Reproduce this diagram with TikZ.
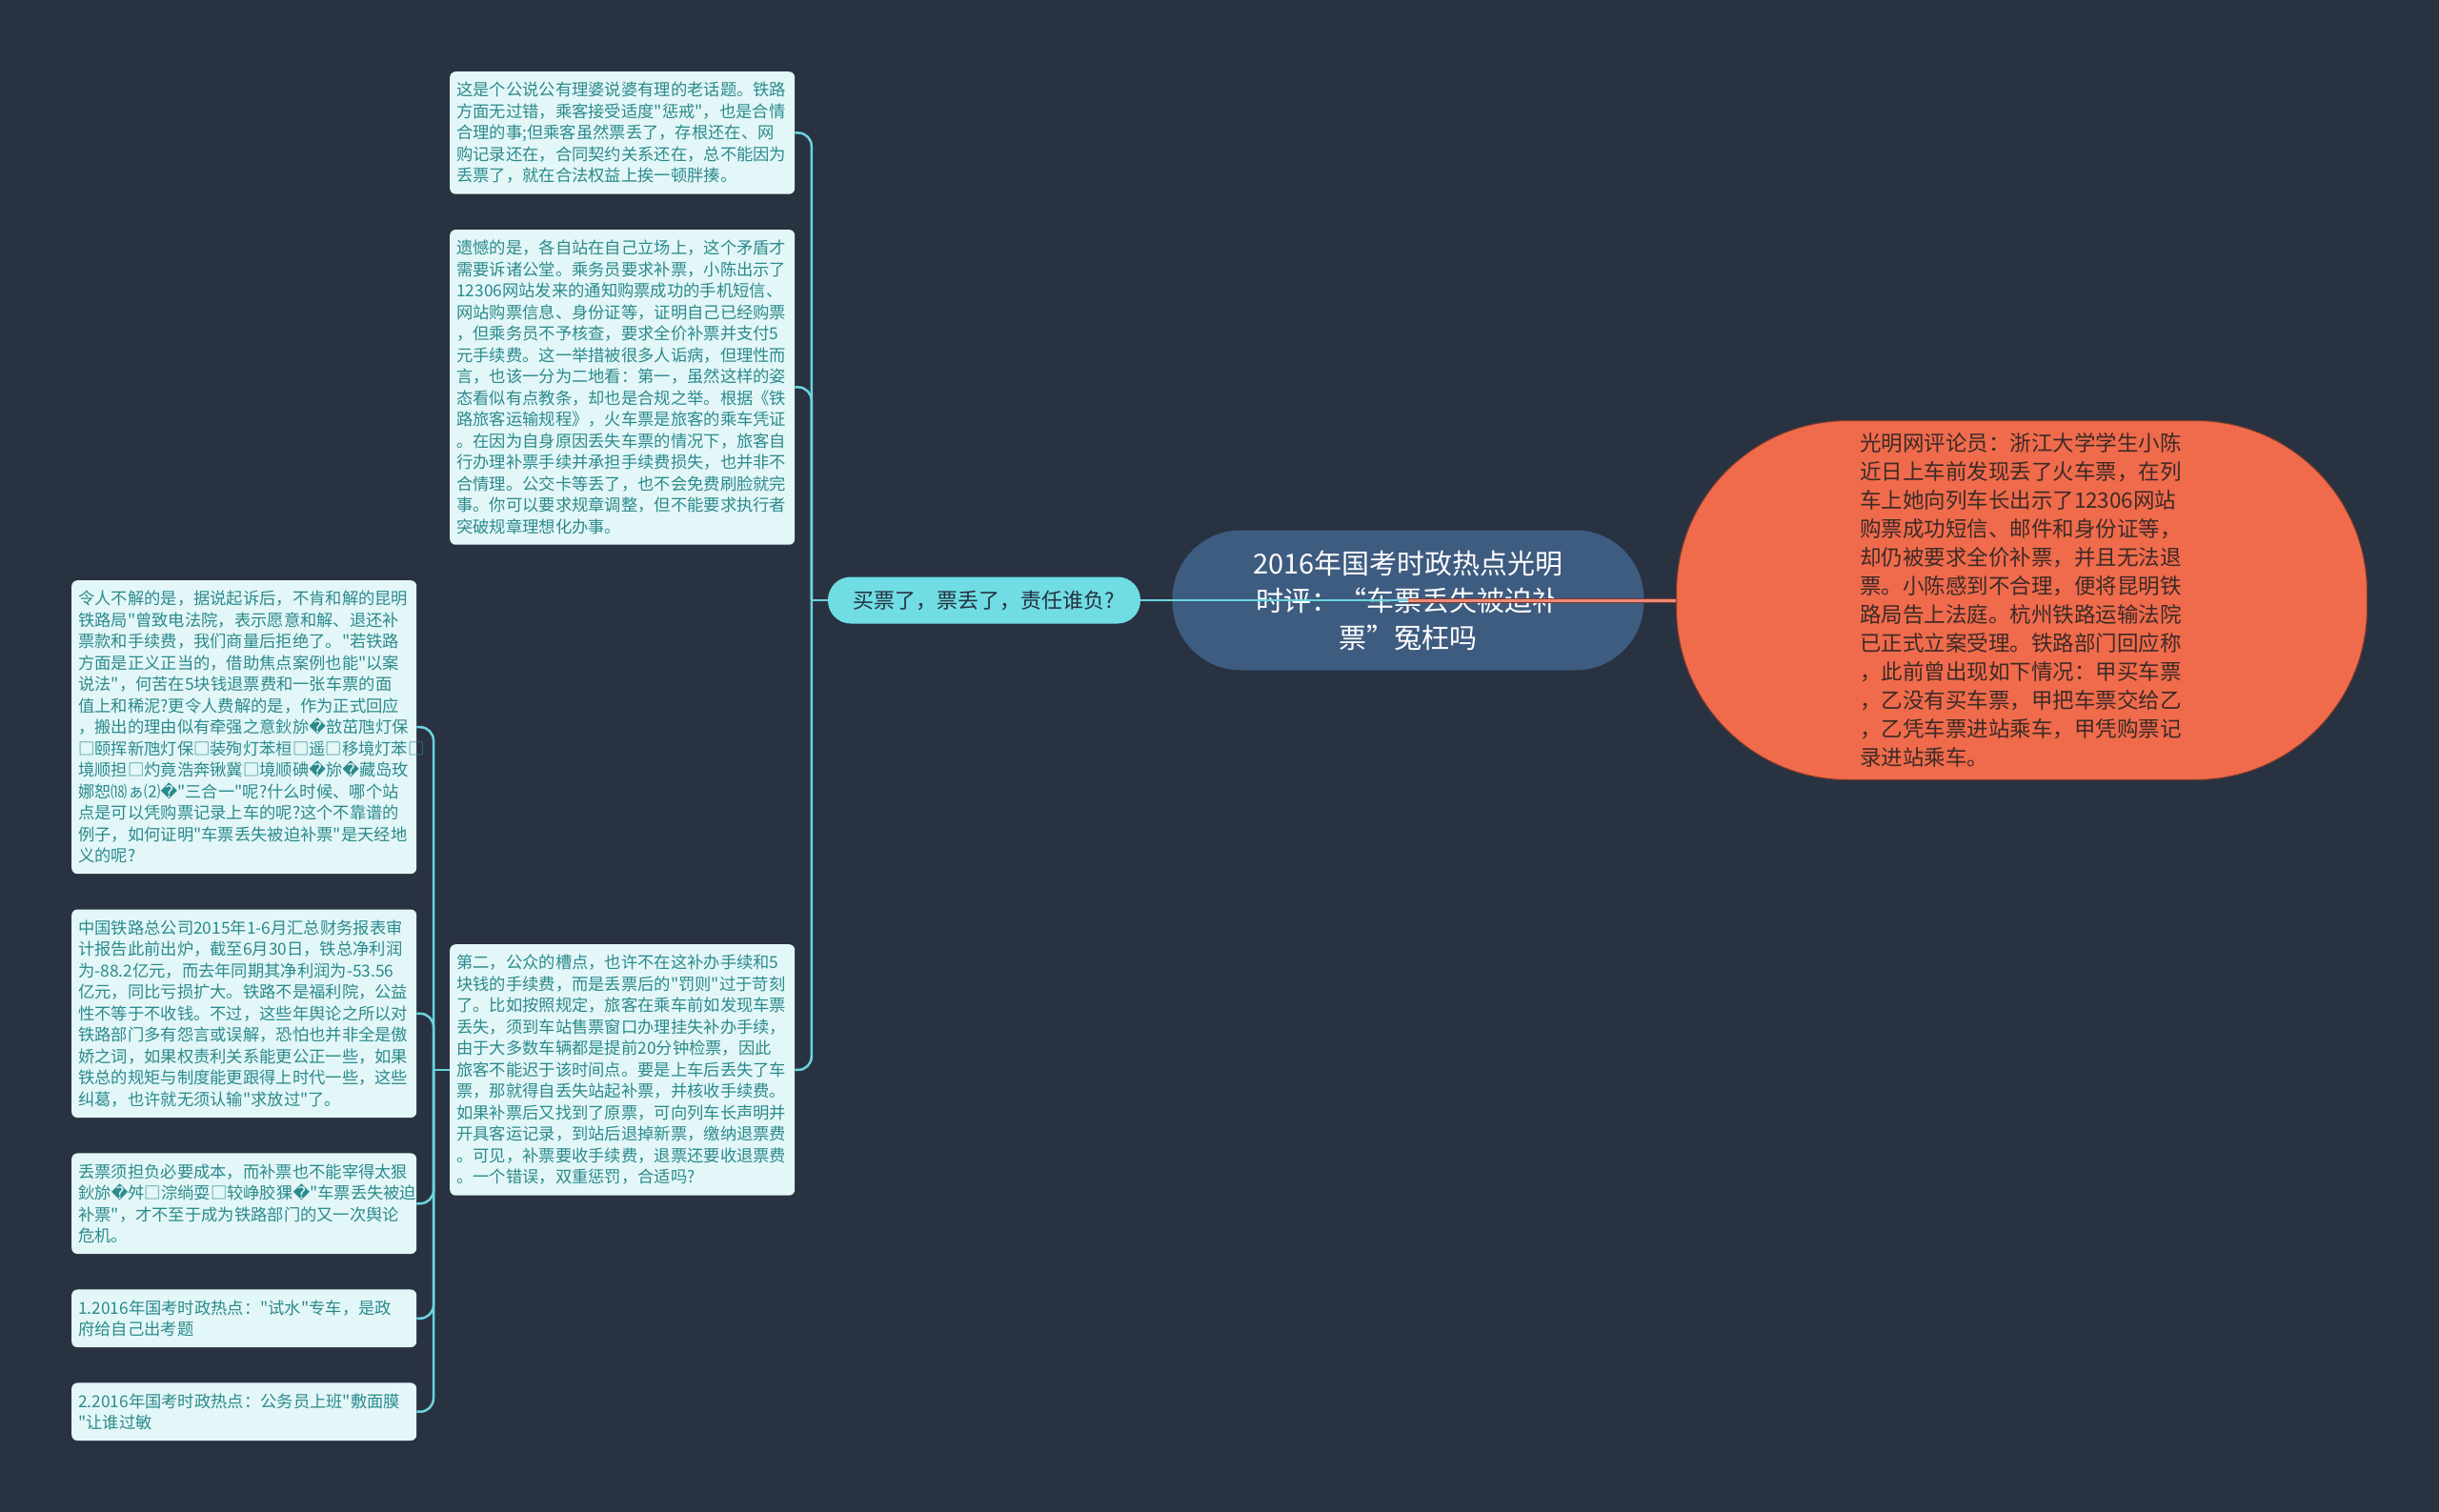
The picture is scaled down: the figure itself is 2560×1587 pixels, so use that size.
\documentclass[tikz,border=0pt]{standalone}
\usepackage{fontspec}
\setmainfont{Noto Sans CJK SC}[Ligatures=TeXOff]
\newfontfamily\symfont{DejaVu Sans}
\usepackage{tikz}
\usetikzlibrary{positioning}

\definecolor{canvas}{HTML}{293241}
\definecolor{leafbg}{HTML}{E4F7F8}
\definecolor{leafink}{HTML}{2B8A8C}
\definecolor{twigcyan}{HTML}{6BD4DF}
\definecolor{askfill}{HTML}{6FDDE3}
\definecolor{askink}{HTML}{263040}
\definecolor{rootfill}{HTML}{3E5B80}
\definecolor{newsfill}{HTML}{EF6B4C}
\definecolor{newsink}{HTML}{3D2A26}
\definecolor{newsedge}{HTML}{7A3A2C}
\definecolor{redlink}{HTML}{F08878}

\newcommand\lost{{\symfont\char"FFFD}}

\begin{document}
\begin{tikzpicture}[
  x=1pt,y=-1pt,
  node distance=37pt,
  leaf/.style={fill=leafbg,text=leafink,rounded corners=6pt,align=left,text width=348pt,inner xsep=7pt,inner ysep=11pt,font=\fontsize{17.3}{22.5}\selectfont},
  ask/.style={fill=askfill,text=askink,rounded corners=24pt,minimum width=328pt,minimum height=49pt,font=\fontsize{22}{26}\selectfont},
  topic/.style={fill=rootfill,text=white,rounded corners=72pt,minimum width=495pt,minimum height=147pt,align=center,font=\fontsize{29}{39}\selectfont},
  news/.style={fill=newsfill,draw=newsedge,line width=1pt,text=newsink,rounded corners=180pt,minimum width=725pt,minimum height=377pt,align=left,text width=340pt,font=\fontsize{22.5}{30}\selectfont},
  twig/.style={draw=twigcyan,line width=2.5pt,rounded corners=14pt}
]
\fill[canvas] (0,0) rectangle (2560,1587);
\useasboundingbox (0,0) rectangle (2560,1587);

\node[topic] (root) at (1478,630) {2016年国考时政热点光明\\时评：“车票丢失被迫补\\票”冤枉吗};
\node[news] (story) at (2122,630) {光明网评论员：浙江大学学生小陈\\近日上车前发现丢了火车票，在列\\车上她向列车长出示了12306网站\\购票成功短信、邮件和身份证等，\\却仍被要求全价补票，并且无法退\\票。小陈感到不合理，便将昆明铁\\路局告上法庭。杭州铁路运输法院\\已正式立案受理。铁路部门回应称\\，此前曾出现如下情况：甲买车票\\，乙没有买车票，甲把车票交给乙\\，乙凭车票进站乘车，甲凭购票记\\录进站乘车。};
\node[ask] (who) at (1033,630) {买票了，票丢了，责任谁负?};

\node[leaf,anchor=north west] (old) at (472,75) {这是个公说公有理婆说婆有理的老话题。铁路\\方面无过错，乘客接受适度"惩戒"，也是合情\\合理的事;但乘客虽然票丢了，存根还在、网\\购记录还在，合同契约关系还在，总不能因为\\丢票了，就在合法权益上挨一顿胖揍。};
\node[leaf,below=of old] (court) {遗憾的是，各自站在自己立场上，这个矛盾才\\需要诉诸公堂。乘务员要求补票，小陈出示了\\12306网站发来的通知购票成功的手机短信、\\网站购票信息、身份证等，证明自己已经购票\\，但乘务员不予核查，要求全价补票并支付5\\元手续费。这一举措被很多人诟病，但理性而\\言，也该一分为二地看：第一，虽然这样的姿\\态看似有点教条，却也是合规之举。根据《铁\\路旅客运输规程》，火车票是旅客的乘车凭证\\。在因为自身原因丢失车票的情况下，旅客自\\行办理补票手续并承担手续费损失，也并非不\\合情理。公交卡等丢了，也不会免费刷脸就完\\事。你可以要求规章调整，但不能要求执行者\\突破规章理想化办事。};
\node[leaf,anchor=north west] (penalty) at (472,991) {第二，公众的槽点，也许不在这补办手续和5\\块钱的手续费，而是丢票后的"罚则"过于苛刻\\了。比如按照规定，旅客在乘车前如发现车票\\丢失，须到车站售票窗口办理挂失补办手续，\\由于大多数车辆都是提前20分钟检票，因此\\旅客不能迟于该时间点。要是上车后丢失了车\\票，那就得自丢失站起补票，并核收手续费。\\如果补票后又找到了原票，可向列车长声明并\\开具客运记录，到站后退掉新票，缴纳退票费\\。可见，补票要收手续费，退票还要收退票费\\。一个错误，双重惩罚，合适吗?};

\node[leaf,anchor=north west] (puzzle) at (75,609) {令人不解的是，据说起诉后，不肯和解的昆明\\铁路局"曾致电法院，表示愿意和解、退还补\\票款和手续费，我们商量后拒绝了。"若铁路\\方面是正义正当的，借助焦点案例也能"以案\\说法"，何苦在5块钱退票费和一张车票的面\\值上和稀泥?更令人费解的是，作为正式回应\\，搬出的理由似有牵强之意鈥旀\lost 敨茁虺灯保\\□颐挥新虺灯保□装殉灯苯桓□遥□移境灯苯□\\境顺担□灼竟浩奔锹冀□境顺碘\lost 旀\lost 藏岛玫\\娜恕⒅ぁ⑵\lost"三合一"呢?什么时候、哪个站\\点是可以凭购票记录上车的呢?这个不靠谱的\\例子，如何证明"车票丢失被迫补票"是天经地\\义的呢?};
\node[leaf,below=of puzzle] (deficit) {中国铁路总公司2015年1-6月汇总财务报表审\\计报告此前出炉，截至6月30日，铁总净利润\\为-88.2亿元，而去年同期其净利润为-53.56\\亿元，同比亏损扩大。铁路不是福利院，公益\\性不等于不收钱。不过，这些年舆论之所以对\\铁路部门多有怨言或误解，恐怕也并非全是傲\\娇之词，如果权责利关系能更公正一些，如果\\铁总的规矩与制度能更跟得上时代一些，这些\\纠葛，也许就无须认输"求放过"了。};
\node[leaf,below=of deficit] (cost) {丢票须担负必要成本，而补票也不能宰得太狠\\鈥旀\lost 舛□淙绱耍□较峥胶猓\lost"车票丢失被迫\\补票"，才不至于成为铁路部门的又一次舆论\\危机。};
\node[leaf,below=of cost] (hotA) {1.2016年国考时政热点："试水"专车，是政\\府给自己出考题};
\node[leaf,below=of hotA] (hotB) {2.2016年国考时政热点：公务员上班"敷面膜\\"让谁过敏};

\coordinate[left=17pt of who.west] (forkR);
\coordinate[left=17pt of penalty.west] (forkL);

\draw[twig] (who.east) -- (root.center);
\draw[newsedge,line width=5pt] (root.center) -- (story.west);
\draw[redlink,line width=3pt] (root.center) -- (story.west);
\draw[twig] (who.west) -- (forkR);
\draw[twig] (forkR) |- (old.east);
\draw[twig] (forkR) |- (court.east);
\draw[twig] (forkR) |- (penalty.east);
\draw[twig] (penalty.west) -- (forkL);
\draw[twig] (forkL) |- (puzzle.east);
\draw[twig] (forkL) |- (deficit.east);
\draw[twig] (forkL) |- (cost.east);
\draw[twig] (forkL) |- (hotA.east);
\draw[twig] (forkL) |- (hotB.east);
\end{tikzpicture}
\end{document}
